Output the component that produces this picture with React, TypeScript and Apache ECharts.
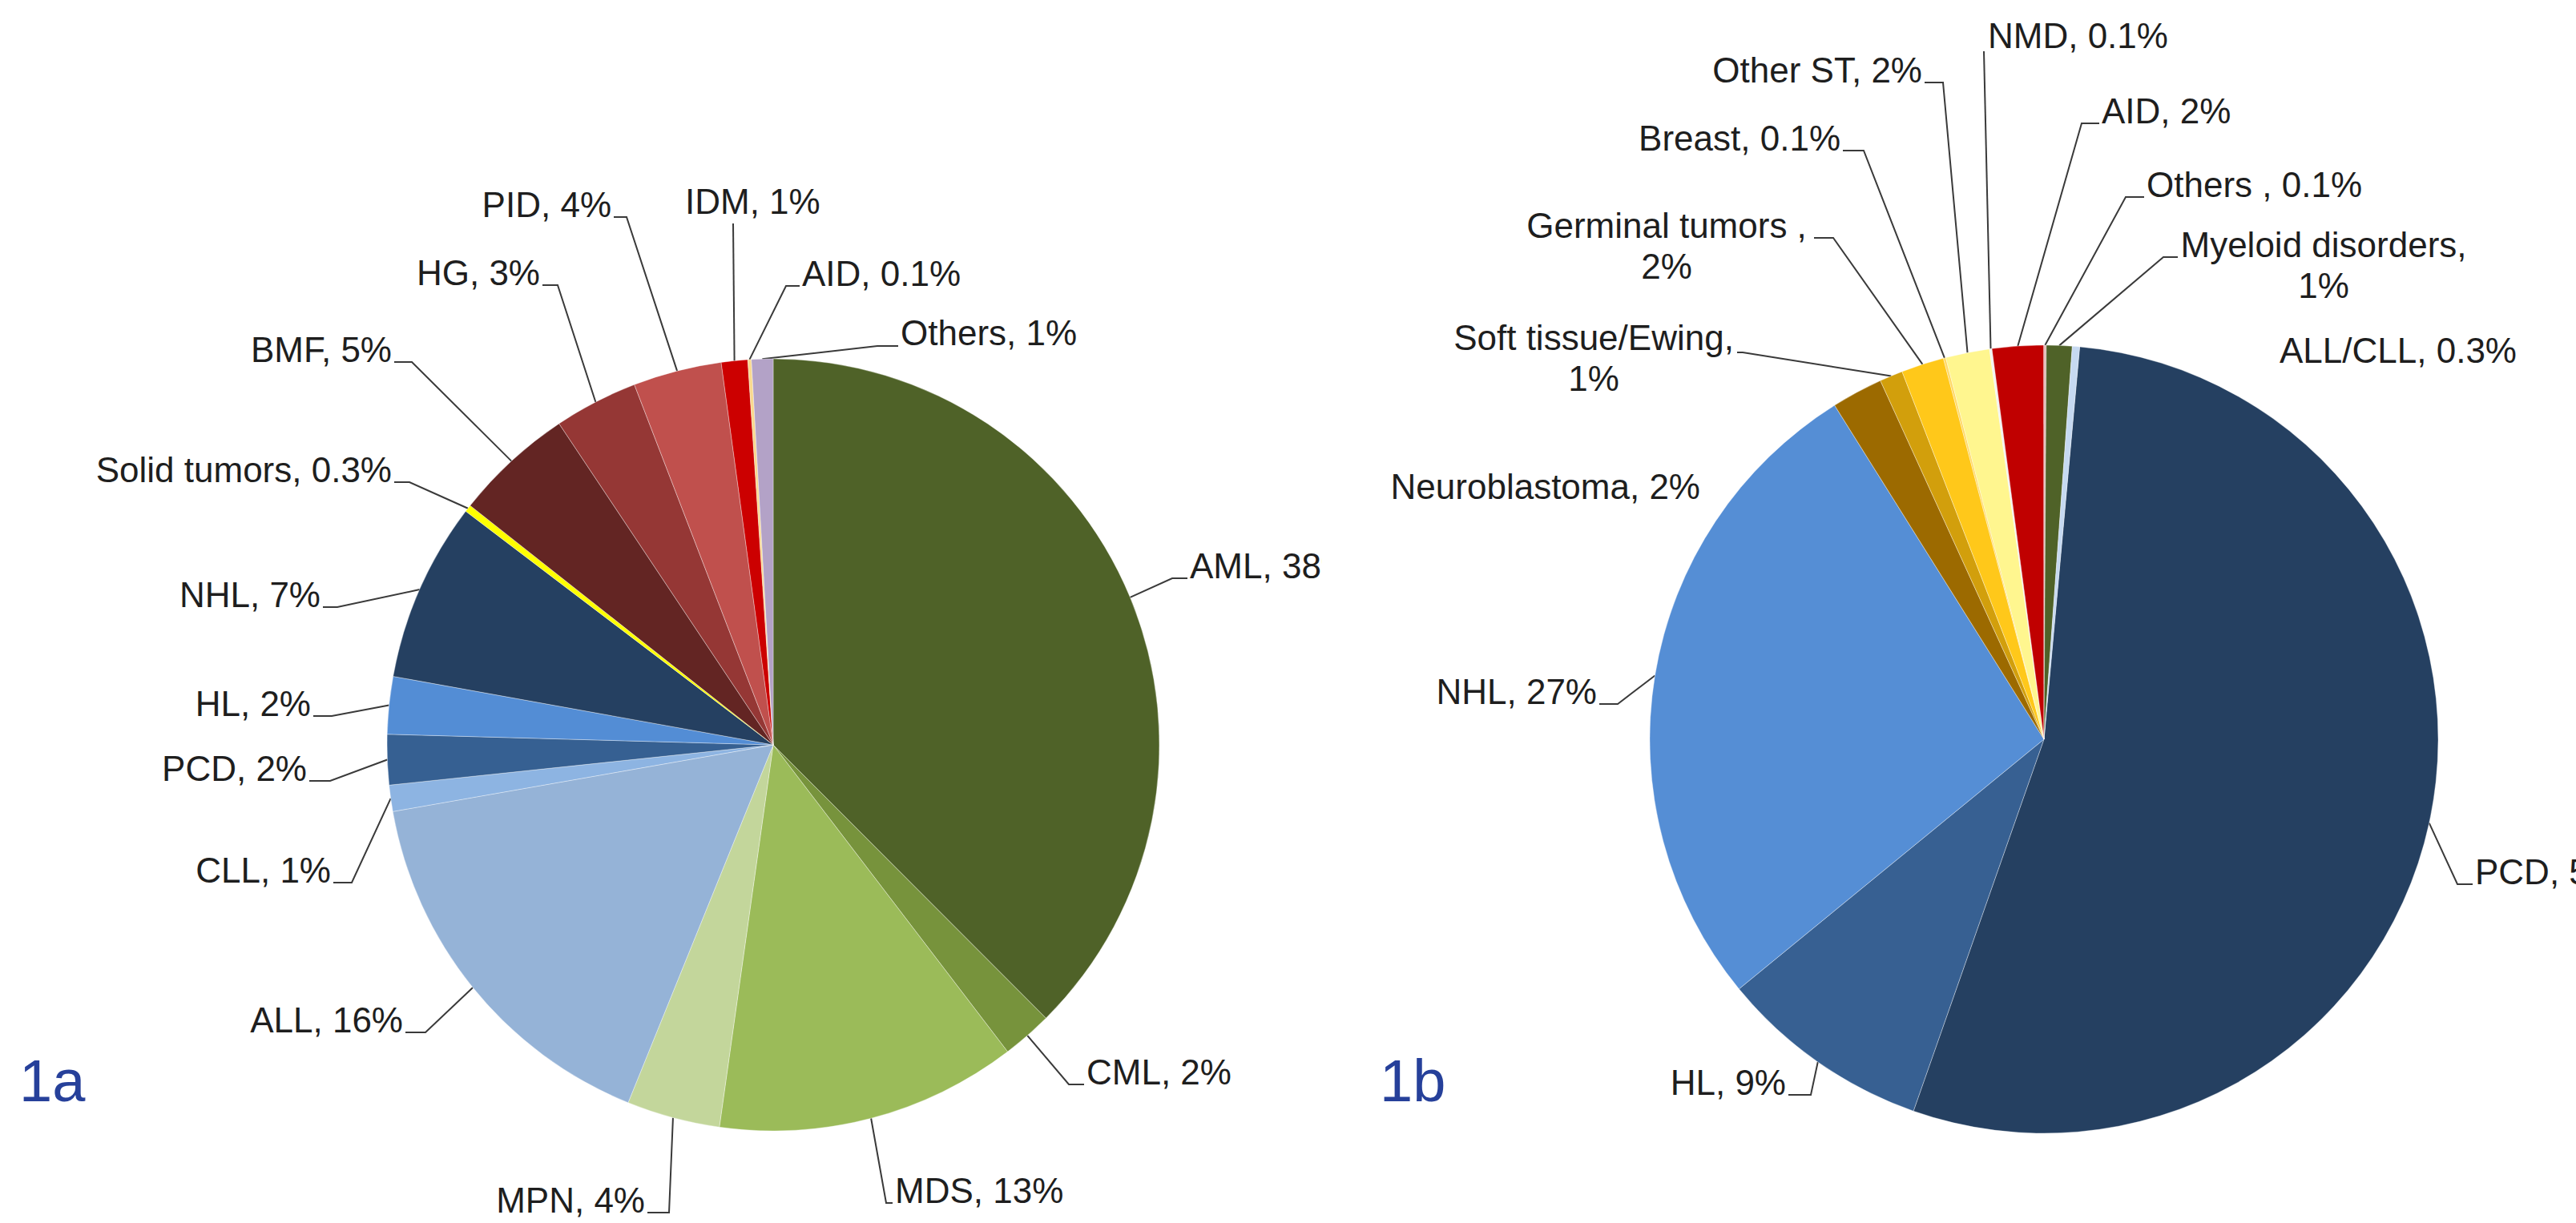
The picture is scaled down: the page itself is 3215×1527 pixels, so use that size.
import React, { useEffect, useRef } from "react";
import * as echarts from "echarts";

// ---------- Data: figure 1a ----------
const names1a = ["AML", "CML", "MDS", "MPN", "ALL", "CLL", "PCD", "HL", "NHL", "Solid tumors", "BMF", "HG", "PID", "IDM", "AID", "Others"];
const values1a = [37.5, 2.1, 12.6, 3.9, 16.1, 1.1, 2.1, 2.4, 7.5, 0.3, 5.0, 3.5, 3.7, 1.1, 0.15, 0.9];
const pct1a = ["38%", "2%", "13%", "4%", "16%", "1%", "2%", "2%", "7%", "0.3%", "5%", "3%", "4%", "1%", "0.1%", "1%"];
const wrap1a = names1a.map(() => false);
const colors1a = ["#4F6228", "#77933C", "#9BBB59", "#C3D69B", "#95B3D7", "#8DB4E2", "#366092", "#538DD5", "#254061", "#FFFF00", "#632523", "#953735", "#C0504D", "#CC0000", "#F9D98E", "#B3A2C7"];

// ---------- Data: figure 1b ----------
const names1b = ["PCD", "HL", "NHL", "Neuroblastoma", "Soft tissue/Ewing", "Germinal tumors ", "Breast", "Other ST", "NMD", "AID", "Others ", "Myeloid disorders", "ALL/CLL"];
const values1b = [53.9, 8.7, 27.0, 2.1, 0.95, 1.75, 0.1, 1.8, 0.1, 2.1, 0.1, 1.05, 0.3];
const pct1b = ["54%", "9%", "27%", "2%", "1%", "2%", "0.1%", "2%", "0.1%", "2%", "0.1%", "1%", "0.3%"];
const wrap1b = [false, false, false, false, true, true, false, false, false, false, false, true, false];
const colors1b = ["#254061", "#376092", "#558ED5", "#9C6A00", "#D29F0C", "#FFC81A", "#FFD966", "#FFF68F", "#F2F2F2", "#C00000", "#E6B9B8", "#4F6228", "#C6D9F1"];

// ---------- Layout (page pixel coordinates) ----------
type Pos = { tx: number; ty: number; align: "left" | "right" | "center"; bend?: [number, number]; stub?: number };

const pos1a: Pos[] = [
  { tx: 1485, ty: 722, align: "left", bend: [1463, 722] },
  { tx: 1356, ty: 1354, align: "left", bend: [1334, 1354] },
  { tx: 1117, ty: 1502, align: "left", bend: [1106, 1502] },
  { tx: 805, ty: 1514, align: "right", bend: [835, 1514] },
  { tx: 503, ty: 1289, align: "right", bend: [531, 1289] },
  { tx: 413, ty: 1102, align: "right", bend: [439, 1102] },
  { tx: 383, ty: 975, align: "right", bend: [412, 975] },
  { tx: 388, ty: 894, align: "right", bend: [414, 894] },
  { tx: 400, ty: 758, align: "right", bend: [421, 758] },
  { tx: 489, ty: 602, align: "right", bend: [511, 602] },
  { tx: 489, ty: 452, align: "right", bend: [514, 452] },
  { tx: 674, ty: 356, align: "right", bend: [696, 356] },
  { tx: 763, ty: 271, align: "right", bend: [782, 271] },
  { tx: 855, ty: 267, align: "left", bend: [915, 279], stub: 915 },
  { tx: 1001, ty: 357, align: "left", bend: [981, 357] },
  { tx: 1124, ty: 431, align: "left", bend: [1095, 432] },
];

const pos1b: Pos[] = [
  { tx: 3089, ty: 1104, align: "left", bend: [3067, 1104] },
  { tx: 2229, ty: 1367, align: "right", bend: [2260, 1367] },
  { tx: 1993, ty: 879, align: "right", bend: [2019, 879] },
  { tx: 2122, ty: 623, align: "right" },
  { tx: 1989, ty: 437, align: "center", bend: [2175, 440], stub: 2168 },
  { tx: 2080, ty: 297, align: "center", bend: [2288, 297], stub: 2264 },
  { tx: 2297, ty: 188, align: "right", bend: [2326, 188] },
  { tx: 2399, ty: 103, align: "right", bend: [2425, 103] },
  { tx: 2481, ty: 60, align: "left", bend: [2476, 64], stub: 2476 },
  { tx: 2623, ty: 154, align: "left", bend: [2598, 154] },
  { tx: 2679, ty: 246, align: "left", bend: [2653, 246] },
  { tx: 2900, ty: 321, align: "center", bend: [2700, 321], stub: 2718 },
  { tx: 2845, ty: 453, align: "left" },
];

const SPLIT_X = 1650;
const FONT = '"Liberation Sans", Arial, Helvetica, sans-serif';
const FONT_SIZE = 44;
const LINE_H = 51;
const BASE_OFF = FONT_SIZE * 0.3465; // distance from line centre to baseline

function makeLayout(pos: Pos[], offsetX: number, values: number[], center: number[], radius: number, startAngle: number) {
  const total = values.reduce((a, b) => a + b, 0);
  const mids: number[] = [];
  let acc = 0;
  values.forEach((v) => {
    mids.push(startAngle - ((acc + v / 2) / total) * 360);
    acc += v;
  });
  return (params: any) => {
    const p = pos[params.dataIndex];
    const lines = String(params.text || "").split("\n").length;
    const y = p.ty - BASE_OFF + ((lines - 1) * LINE_H) / 2;
    const out: any = { x: p.tx - offsetX, y, align: p.align, verticalAlign: "middle" };
    if (p.bend) {
      const a = (mids[params.dataIndex] * Math.PI) / 180;
      const fallback = [center[0] + radius * Math.cos(a), center[1] - radius * Math.sin(a)];
      const e = params.labelLinePoints && params.labelLinePoints[0] ? params.labelLinePoints[0] : fallback;
      const sx = p.stub != null ? p.stub : p.align === "right" ? p.tx + 3 : p.tx - 3;
      out.labelLinePoints = [e, [p.bend[0] - offsetX, p.bend[1]], [sx - offsetX, p.bend[1]]];
    }
    return out;
  };
}

function pieOption(
  names: string[], values: number[], pcts: string[], wraps: boolean[], colors: string[],
  pos: Pos[], offsetX: number, center: number[], radius: number, startAngle: number,
  tag: string, tagX: number
) {
  const labels = names.map((n, i) => `${n},${wraps[i] ? "\n" : " "}${pcts[i]}`);
  return {
    animation: false,
    backgroundColor: "#ffffff",
    graphic: [
      {
        type: "text",
        x: tagX,
        y: 1349,
        style: {
          text: tag,
          fill: "#26409A",
          font: `74px ${FONT}`,
          fontSize: 74,
          fontFamily: FONT,
          align: "left",
          verticalAlign: "middle",
          textAlign: "left",
          textVerticalAlign: "middle",
        },
      },
    ],
    series: [
      {
        type: "pie",
        center,
        radius,
        startAngle,
        clockwise: true,
        avoidLabelOverlap: false,
        emphasis: { disabled: true },
        itemStyle: { borderWidth: 1, borderColor: "rgba(255,255,255,0.35)" },
        label: {
          show: true,
          position: "outside",
          color: "#1e1e1e",
          fontSize: FONT_SIZE,
          fontFamily: FONT,
          lineHeight: LINE_H,
          formatter: (p: any) => labels[p.dataIndex],
        },
        labelLine: { show: true, smooth: false, lineStyle: { color: "#3a3a3a", width: 2 } },
        labelLayout: makeLayout(pos, offsetX, values, center, radius, startAngle),
        data: names.map((n, i) => ({
          name: n,
          value: values[i],
          itemStyle: { color: colors[i] },
          labelLine: pos[i].bend ? { show: true } : { show: false },
        })),
      },
    ],
  };
}

export default function App() {
  const leftRef = useRef<HTMLDivElement>(null);
  const rightRef = useRef<HTMLDivElement>(null);

  useEffect(() => {
    const c1 = echarts.init(leftRef.current!, null, { renderer: "svg" });
    const c2 = echarts.init(rightRef.current!, null, { renderer: "svg" });
    c1.setOption(
      pieOption(names1a, values1a, pct1a, wrap1a, colors1a, pos1a, 0, [965, 930], 482, 90, "1a", 24) as any
    );
    c2.setOption(
      pieOption(names1b, values1b, pct1b, wrap1b, colors1b, pos1b, SPLIT_X, [2551 - SPLIT_X, 923], 492, 84.8, "1b", 1722 - SPLIT_X) as any
    );
    return () => {
      c1.dispose();
      c2.dispose();
    };
  }, []);

  return (
    <div style={{ position: "absolute", left: 0, top: 0, width: 3215, height: 1527, background: "#fff", overflow: "hidden" }}>
      <div ref={leftRef} style={{ position: "absolute", left: 0, top: 0, width: SPLIT_X, height: 1527 }} />
      <div ref={rightRef} style={{ position: "absolute", left: SPLIT_X, top: 0, width: 3215 - SPLIT_X, height: 1527 }} />
    </div>
  );
}
